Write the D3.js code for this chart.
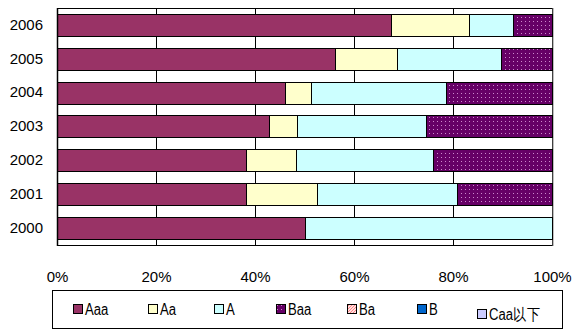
<!DOCTYPE html>
<html>
<head>
<meta charset="utf-8">
<script src="https://cdn.jsdelivr.net/npm/d3@7"></script>
<style>
  html, body { margin: 0; padding: 0; background: #fff; }
  svg { display: block; }
  text { font-family: "Liberation Sans", Arial, sans-serif; fill: #000; }
</style>
</head>
<body>
<svg id="chart" width="572" height="332"></svg>
<script>
// Rating mix by year (share of issues, %)
const years = ["2006", "2005", "2004", "2003", "2002", "2001", "2000"];
const ratings = ["Aaa", "Aa", "A", "Baa", "Ba", "B", "Caa以下"];
const aaa = [67.4, 56.1, 46.0, 42.8, 38.1, 38.1, 50.2];
const aa  = [15.8, 12.5,  5.3,  5.7, 10.1, 14.4,  0.0];
const a   = [ 9.0, 21.0, 27.2, 26.0, 27.7, 28.4, 49.8];
const baa = [ 7.8, 10.4, 21.5, 25.5, 24.1, 19.1,  0.0];
const ba  = [ 0, 0, 0, 0, 0, 0, 0];
const b   = [ 0, 0, 0, 0, 0, 0, 0];
const caa = [ 0, 0, 0, 0, 0, 0, 0];
const xTicks = [0, 20, 40, 60, 80, 100];

const seriesValues = [aaa, aa, a, baa, ba, b, caa];
const fills = ["#993366", "#FFFFCC", "#CCFFFF", "url(#dotsBaa)", "url(#hatchBa)", "#0066CC", "#CCCCFF"];

const rows = years.map((y, i) => {
  const r = { year: y };
  ratings.forEach((k, j) => { r[k] = seriesValues[j][i]; });
  return r;
});
const stacked = d3.stack().keys(ratings)(rows);

const svg = d3.select("#chart");
const defs = svg.append("defs");

// Baa: dark purple with a grid of light dots
const pd = defs.append("pattern").attr("id", "dotsBaa")
  .attr("patternUnits", "userSpaceOnUse").attr("width", 4).attr("height", 4);
pd.append("rect").attr("width", 4).attr("height", 4).attr("fill", "#660066");
pd.append("rect").attr("x", 1).attr("y", 1).attr("width", 1).attr("height", 1).attr("fill", "#CC88CC");

// Ba: light red diagonal hatch
const ph = defs.append("pattern").attr("id", "hatchBa")
  .attr("patternUnits", "userSpaceOnUse").attr("width", 3).attr("height", 3);
ph.append("rect").attr("width", 3).attr("height", 3).attr("fill", "#FFE0E0");
ph.append("path").attr("d", "M0,3 L3,0").attr("stroke", "#FF8080").attr("stroke-width", 1);

const plot = { left: 57, right: 552, top: 8, bottom: 245 };

const x = d3.scaleLinear().domain([0, 100]).range([plot.left, plot.right]);
const y = d3.scaleBand().domain(years).range([plot.top, plot.bottom])
  .paddingInner(0.35).paddingOuter(0.175);

// vertical gridlines
svg.append("g")
  .selectAll("line").data(xTicks.slice(1, -1)).join("line")
  .attr("x1", d => Math.round(x(d)) + 0.5).attr("x2", d => Math.round(x(d)) + 0.5)
  .attr("y1", plot.top).attr("y2", plot.bottom)
  .attr("stroke", "#000").attr("stroke-width", 1);

// plot frame
svg.append("rect")
  .attr("x", plot.left + 0.5).attr("y", plot.top + 0.5)
  .attr("width", plot.right - plot.left).attr("height", plot.bottom - plot.top)
  .attr("fill", "none").attr("stroke", "#000").attr("stroke-width", 1);
svg.append("line")
  .attr("x1", plot.right + 1).attr("x2", plot.right + 1)
  .attr("y1", plot.top).attr("y2", plot.bottom + 1)
  .attr("stroke", "#808080").attr("stroke-width", 1);

// stacked bars
svg.append("g")
  .selectAll("g").data(stacked).join("g")
  .attr("fill", (d, i) => fills[i])
  .selectAll("rect").data(d => d.filter(p => p[1] - p[0] > 0)).join("rect")
  .attr("x", d => Math.round(x(d[0])) + 0.5)
  .attr("y", d => Math.round(y(d.data.year)) + 0.5)
  .attr("width", d => Math.round(x(d[1])) - Math.round(x(d[0])))
  .attr("height", Math.round(y.bandwidth()))
  .attr("stroke", "#000").attr("stroke-width", 1);

// left axis line
svg.append("line")
  .attr("x1", plot.left + 0.5).attr("x2", plot.left + 0.5)
  .attr("y1", plot.top).attr("y2", plot.bottom + 1)
  .attr("stroke", "#000").attr("stroke-width", 1.5);

// year labels
const yAxis = svg.append("g").attr("transform", `translate(${plot.left},0)`)
  .call(d3.axisLeft(y).tickSize(0).tickPadding(14));
yAxis.select(".domain").remove();
yAxis.selectAll("text").attr("font-size", 15).attr("font-family", "Liberation Sans, Arial, sans-serif");

// percentage labels
const xAxis = svg.append("g").attr("transform", `translate(0,${plot.bottom})`)
  .call(d3.axisBottom(x).tickValues(xTicks).tickFormat(d => d + "%").tickSize(0).tickPadding(26));
xAxis.select(".domain").remove();
xAxis.selectAll("text").attr("font-size", 15).attr("font-family", "Liberation Sans, Arial, sans-serif");

// legend
const lg = svg.append("g");
lg.append("rect").attr("x", 52.5).attr("y", 290.5).attr("width", 510).attr("height", 38)
  .attr("fill", "#fff").attr("stroke", "#000").attr("stroke-width", 1);
const legendX = [73, 148, 214, 276, 347, 417, 477];
const legendDy = [0, 0, 0, 0, 0, 0, 5];
ratings.forEach((k, i) => {
  const gx = legendX[i], gy = 304 + legendDy[i];
  lg.append("rect").attr("x", gx + 0.5).attr("y", gy + 0.5).attr("width", 9).attr("height", 9)
    .attr("fill", fills[i]).attr("stroke", "#000").attr("stroke-width", 1);
  lg.append("text")
    .attr("transform", `translate(${gx + 12},${gy + 10.5}) scale(0.82,1)`)
    .attr("font-size", 16).attr("font-family", "'Liberation Sans', 'Noto Sans CJK JP', sans-serif")
    .text(k);
});
</script>
</body>
</html>
